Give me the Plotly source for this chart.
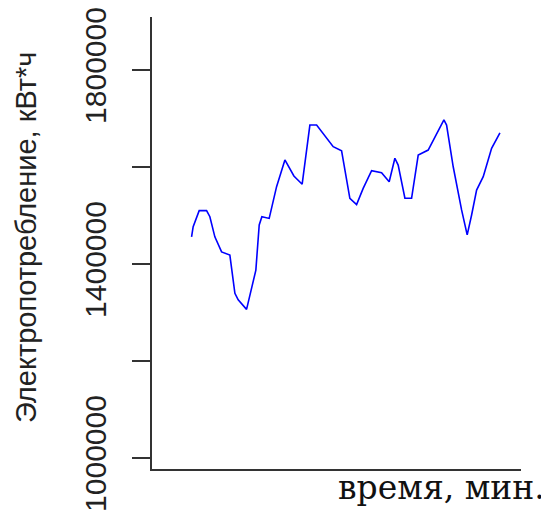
import plotly.graph_objects as go

# time, minutes (x has no tick labels in the reference)
time_min = [0, 0.31, 1.48, 2.92, 3.56, 4.53, 5.84, 7.45, 8.43, 9.07,
            10.70, 11.68, 12.51, 13.16, 13.68, 15.10, 16.54, 18.16, 19.91, 21.52,
            22.38, 23.02, 24.33, 26.27, 27.56, 29.19, 30.16, 30.80, 32.11, 33.39,
            35.03, 36.97, 38.45, 39.56, 40.20, 41.51, 42.81, 44.10, 46.04, 47.35,
            49.10, 49.62, 50.91, 52.54, 53.63, 54.49, 55.46, 56.75, 58.38, 60.0]

# electricity consumption, kWh
consumption = [1456000, 1477000, 1510000, 1510000, 1497500, 1456000, 1425000, 1418500, 1339500, 1326000,
               1306500, 1350000, 1387500, 1480500, 1497500, 1494000, 1559500, 1614500, 1581500, 1564500,
               1642000, 1686500, 1686500, 1659000, 1642000, 1633500, 1573000, 1535500, 1522500, 1556000,
               1592500, 1588000, 1569500, 1618000, 1604000, 1535500, 1535500, 1624500, 1635000, 1662500,
               1697000, 1686500, 1600500, 1511500, 1460000, 1501000, 1552500, 1580000, 1638500, 1670500]

y_tickvals = [1000000, 1200000, 1400000, 1600000, 1800000]
y_ticktext = ["1000000", "", "1400000", "", "1800000"]

y_title = "Электропотребление, кВт*ч"
x_title = "время, мин."

fig = go.Figure()
fig.add_trace(go.Scatter(x=time_min, y=consumption, mode="lines",
                         line=dict(color="#0000ff", width=1.6),
                         hoverinfo="skip", showlegend=False))

# page body has an 8px margin, so the figure is shrunk by 8px to fit the window
fig.update_layout(
    width=541, height=506,
    margin=dict(l=144, r=28, t=9, b=45, autoexpand=False),
    paper_bgcolor="white", plot_bgcolor="white",
    font=dict(family="Liberation Sans", color="#222"),
    xaxis=dict(range=[-7.7, 64.1], showline=True, linecolor="#333", linewidth=1.6,
               showgrid=False, zeroline=False, showticklabels=False, ticks="",
               automargin=False),
    yaxis=dict(range=[977300, 1909300], showline=True, linecolor="#333", linewidth=1.6,
               showgrid=False, zeroline=False, ticks="outside", ticklen=18,
               tickwidth=1.6, tickcolor="#333", automargin=False,
               tickvals=y_tickvals, ticktext=y_ticktext, tickangle=-90,
               tickfont=dict(size=30, family="Liberation Sans", color="#222"),
               ticklabelstandoff=14, ticklabeloverflow="allow"),
    annotations=[
        dict(text=y_title, xref="paper", yref="paper", x=-0.343, y=0.512,
             xanchor="center", yanchor="middle", textangle=-90, showarrow=False,
             font=dict(size=29, family="Liberation Sans", color="#222")),
        dict(text=x_title, xref="paper", yref="paper", x=0.7846, y=-0.042,
             xanchor="center", yanchor="middle", showarrow=False,
             font=dict(size=33, family="DejaVu Serif", color="#111")),
    ],
)

fig.write_html("out.html")
